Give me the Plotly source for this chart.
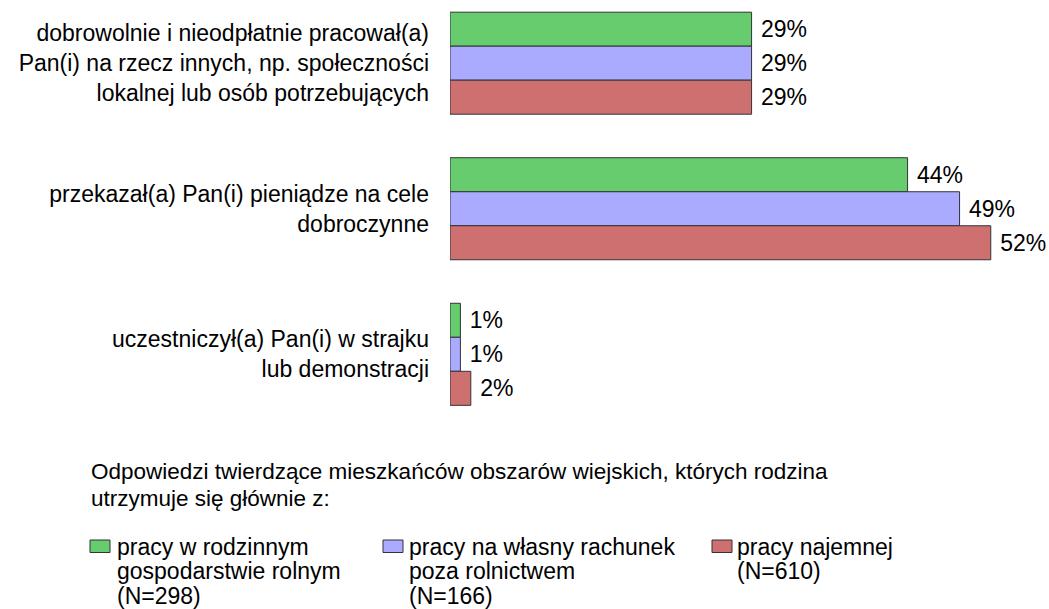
import plotly.graph_objects as go

categories = [
    "dobrowolnie i nieodpłatnie pracował(a)<br>Pan(i) na rzecz innych, np. społeczności<br>lokalnej lub osób potrzebujących",
    "przekazał(a) Pan(i) pieniądze na cele<br>dobroczynne",
    "uczestniczył(a) Pan(i) w strajku<br>lub demonstracji",
]
series_names = [
    ["pracy w rodzinnym", "gospodarstwie rolnym", "(N=298)"],
    ["pracy na własny rachunek", "poza rolnictwem", "(N=166)"],
    ["pracy najemnej", "(N=610)"],
]
rolnicy = [29, 44, 1]
na_wlasny = [29, 49, 1]
najemni = [29, 52, 2]
legend_title = [
    "Odpowiedzi twierdzące mieszkańców obszarów wiejskich, których rodzina",
    "utrzymuje się głównie z:",
]

colors = ["#66CC6E", "#AAAAFF", "#CF7070"]
values = [rolnicy, na_wlasny, najemni]

W, H = 1049, 609
FONT = "Liberation Sans, Arial, sans-serif"
PL, PT, PW, PH = 450, 0, 599, 440


def px(x):
    return (x - PL) / PW


def py(y):
    return 1 - (y - PT) / PH


fig = go.Figure()
for name, vals, col in zip(series_names, values, colors):
    fig.add_trace(go.Bar(
        y=categories, x=vals, name=" ".join(name), orientation="h",
        marker=dict(color=col, line=dict(color="#333333", width=1)),
        text=[f"\u00a0{v}%" for v in vals], textposition="outside",
        textfont=dict(size=23, color="black", family=FONT),
        cliponaxis=False, showlegend=False,
    ))

fig.update_layout(
    width=W, height=H,
    margin=dict(l=PL, r=W - PL - PW, t=PT, b=H - PH - PT, pad=0),
    barmode="group", bargap=0.299, bargroupgap=0,
    plot_bgcolor="white", paper_bgcolor="white",
    font=dict(family=FONT, size=23, color="black"),
    xaxis=dict(range=[0, 57.6], visible=False),
    yaxis=dict(range=[2.5888, -0.4342], showgrid=False, zeroline=False,
               showline=False, ticks="", ticklabelstandoff=20, automargin=False,
               tickfont=dict(size=23, color="black", family=FONT)),
    showlegend=False,
)

# legend title
for i, line in enumerate(legend_title):
    fig.add_annotation(
        xref="paper", yref="paper", x=px(89), y=py(471 + 27 * i),
        xanchor="left", yanchor="middle", showarrow=False,
        text=line, font=dict(size=22.5, color="black", family=FONT),
    )

# legend entries
sq_x = [90, 383, 712]
txt_x = [118, 410, 738]
for lines, col, sx, tx in zip(series_names, colors, sq_x, txt_x):
    fig.add_shape(type="rect", xref="paper", yref="paper",
                  x0=px(sx), x1=px(sx + 20), y0=py(540), y1=py(552.5),
                  fillcolor=col, line=dict(color="#333333", width=1))
    for i, line in enumerate(lines):
        fig.add_annotation(
            xref="paper", yref="paper", x=px(tx - 3), y=py(546.5 + 24.5 * i),
            xanchor="left", yanchor="middle", showarrow=False,
            text=line, font=dict(size=23, color="black", family=FONT),
        )

fig.write_html(
    "out.html",
    config={"displayModeBar": False},
    post_script="document.body.style.margin='0';document.body.style.overflow='hidden';",
)
